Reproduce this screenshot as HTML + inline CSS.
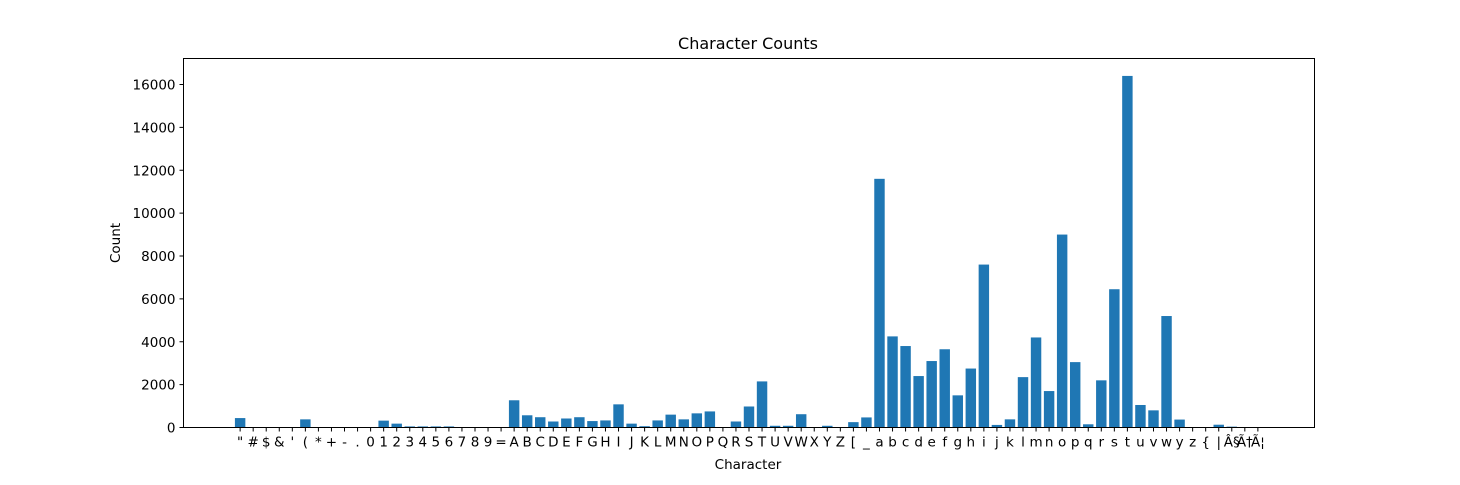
<!DOCTYPE html>
<html><head><meta charset="utf-8"><style>
body{margin:0;background:#fff}
svg text{font-family:"DejaVu Sans","Liberation Sans",sans-serif;fill:#000}
</style></head><body>
<svg id="chart" width="1460" height="480" xmlns="http://www.w3.org/2000/svg">
<rect width="1460" height="480" fill="#fff"/>
<text x="748" y="49" font-size="16" text-anchor="middle">Character Counts</text>
<g id="bars"></g><g id="xt"></g><g id="yt"></g>
<rect x="183.5" y="58.5" width="1131" height="369" fill="none" stroke="#000" stroke-width="1"/>
<text x="748" y="469" font-size="13.5" text-anchor="middle">Character</text>
<text transform="translate(120,243) rotate(-90)" font-size="13.5" text-anchor="middle">Count</text>
</svg>
<script>
const categories=['"','#','$','&',"'",'(','*','+','-','.','0','1','2','3','4','5','6','7','8','9','=','A','B','C','D','E','F','G','H','I','J','K','L','M','N','O','P','Q','R','S','T','U','V','W','X','Y','Z','[','_','a','b','c','d','e','f','g','h','i','j','k','l','m','n','o','p','q','r','s','t','u','v','w','y','z','{','|','Â§','Ã†','Ã¦'];
const counts=[440,0,0,0,0,380,0,0,0,0,0,320,180,50,50,50,50,0,0,0,0,1270,570,480,280,420,480,300,330,1080,180,60,330,600,380,660,750,0,280,980,2150,80,80,620,0,80,0,250,470,11600,4250,3800,2400,3100,3650,1500,2750,7600,120,380,2350,4200,1700,9000,3050,150,2200,6450,16400,1050,800,5200,370,0,0,130,40,0,0];
const yTicks=[0,2000,4000,6000,8000,10000,12000,14000,16000];
const NS='http://www.w3.org/2000/svg';
const L=183.5,W=1131,B=427.5;
const xmin=-0.4-0.05*(categories.length-0.2),xmax=categories.length-0.6+0.05*(categories.length-0.2);
const xs=v=>L+(v-xmin)/(xmax-xmin)*W;
const ys=v=>B-v*(343/16000);
const bars=document.getElementById('bars'),xt=document.getElementById('xt'),yt=document.getElementById('yt');
counts.forEach((c,i)=>{
 const r=document.createElementNS(NS,'rect');
 
 
 r.setAttribute('x',xs(i-0.4));r.setAttribute('width',xs(i+0.4)-xs(i-0.4));
 r.setAttribute('y',ys(c));r.setAttribute('height',B-ys(c));r.setAttribute('fill','#1f77b4');
 bars.appendChild(r);
});
categories.forEach((c,i)=>{
 const x=xs(i);
 const l=document.createElementNS(NS,'line');
 
 
 l.setAttribute('x1',x);l.setAttribute('x2',x);l.setAttribute('y1',B);l.setAttribute('y2',B+4);l.setAttribute('stroke','#000');
 xt.appendChild(l);
 const t=document.createElementNS(NS,'text');
 
 
 t.setAttribute('x',x);t.setAttribute('y',B+19);t.setAttribute('font-size','13.5');t.setAttribute('text-anchor','middle');
 t.textContent=c;xt.appendChild(t);
});
yTicks.forEach(v=>{
 const y=ys(v);
 const l=document.createElementNS(NS,'line');
 
 
 l.setAttribute('x1',L-4);l.setAttribute('x2',L);l.setAttribute('y1',y);l.setAttribute('y2',y);l.setAttribute('stroke','#000');
 yt.appendChild(l);
 const t=document.createElementNS(NS,'text');
 
 
 t.setAttribute('x',L-8);t.setAttribute('y',y+5);t.setAttribute('font-size','13.5');t.setAttribute('text-anchor','end');
 t.textContent=v;yt.appendChild(t);
});
</script>
</body></html>
